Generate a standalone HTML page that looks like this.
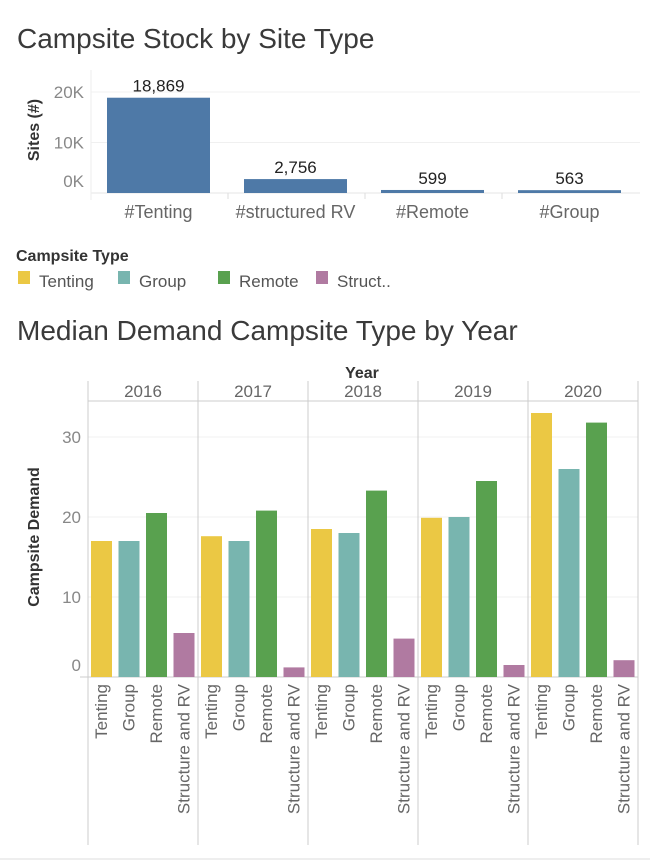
<!DOCTYPE html>
<html><head><meta charset="utf-8"><style>
body{margin:0;background:#fff;width:650px;height:861px;overflow:hidden;font-family:"Liberation Sans",sans-serif}
svg{display:block}
</style></head><body>
<svg id="s" width="650" height="861" xmlns="http://www.w3.org/2000/svg">
<text x="17" y="48" font-size="28" fill="#3a3a3a">Campsite Stock by Site Type</text>
<text x="17" y="340" font-size="28" fill="#3a3a3a">Median Demand Campsite Type by Year</text>
<g id="topchart"></g>
<g id="legend">
<text x="16" y="261" font-size="16" font-weight="bold" fill="#333">Campsite Type</text>
</g>
<g id="botchart"></g>
<line x1="0" y1="859" x2="650" y2="859" stroke="#eee" stroke-width="2"/>
</svg>
<script>
const stockCats=["#Tenting","#structured RV","#Remote","#Group"];
const stockVals=[18869,2756,599,563];
const stockTicks=[0,10000,20000];
const stockTickLabels=["0K","10K","20K"];
const years=["2016","2017","2018","2019","2020"];
const types=["Tenting","Group","Remote","Structure and RV"];
const tenting=[17,17.6,18.5,19.9,33];
const group=[17,17,18,20,26];
const remote=[20.5,20.8,23.3,24.5,31.8];
const structRV=[5.5,1.2,4.8,1.5,2.1];
const demandTicks=[0,10,20,30];
const legendLabels=["Tenting","Group","Remote","Struct.."];
const colors=["#EBC844","#78B5AF","#59A14F","#B07AA1"];
const NS="http://www.w3.org/2000/svg";
function mk(p,t,a,txt){const e=document.createElementNS(NS,t);for(const k in a)e.setAttribute(k,a[k]);if(txt!==undefined)e.textContent=txt;p.appendChild(e);return e;}
const topG=document.getElementById('topchart');
const ty=v=>193-v*(101/20000);
const tx0=91,tslot=137;
stockTicks.forEach((t,i)=>{
 const gl=mk(topG,'line',{x1:tx0,x2:640,y1:ty(t),y2:ty(t),stroke:i==0?'#e6e6e6':'#f0f0f0'});
 
 
 const l=mk(topG,'text',{x:84,y:ty(t)+6-(t==0?12:0),'text-anchor':'end','font-size':17,fill:'#888'},stockTickLabels[i]);
 
 
});
mk(topG,'line',{x1:tx0,x2:tx0,y1:70,y2:200,stroke:'#eee'});
const yt=mk(topG,'text',{transform:'translate(39,130) rotate(-90)','text-anchor':'middle','font-size':16,'font-weight':'bold',fill:'#333'},'Sites (#)');


stockCats.forEach((c,i)=>{
 const x=tx0+16+i*tslot,v=stockVals[i];
 const b=mk(topG,'rect',{x:x,y:ty(v),width:103,height:193-ty(v),fill:'#4E79A7'});
 
 
 const vl=mk(topG,'text',{x:x+51.5,y:ty(v)-6,'text-anchor':'middle','font-size':17,fill:'#222'},v.toLocaleString('en-US'));
 
 
 const cl=mk(topG,'text',{x:x+51.5,y:218,'text-anchor':'middle','font-size':18,fill:'#666'},c);
 
 
 if(i>0){mk(topG,'line',{x1:tx0+i*tslot,x2:tx0+i*tslot,y1:193,y2:199,stroke:'#ddd'});}
});
const lg=document.getElementById('legend');
const lx=[18,118,218,316];
legendLabels.forEach((t,i)=>{
 const g=mk(lg,'g',{});
 
 
 mk(g,'rect',{x:lx[i],y:271,width:12,height:13,fill:colors[i]});
 mk(g,'text',{x:lx[i]+21,y:287,'font-size':17,fill:'#555'},t);
});
const botG=document.getElementById('botchart');
const by=v=>677-v*8;
const px0=88,pw=110;
demandTicks.forEach(t=>{
 const gl=mk(botG,'line',{x1:px0,x2:638,y1:by(t),y2:by(t),stroke:'#f0f0f0'});
 
 
 const l=mk(botG,'text',{x:81,y:by(t)+6-(t==0?12:0),'text-anchor':'end','font-size':17,fill:'#888'},String(t));
 
 
});
const yt2=mk(botG,'text',{transform:'translate(39,537) rotate(-90)','text-anchor':'middle','font-size':16,'font-weight':'bold',fill:'#333'},'Campsite Demand');


const yh=mk(botG,'text',{x:362,y:378,'text-anchor':'middle','font-size':16,'font-weight':'bold',fill:'#333'},'Year');


mk(botG,'line',{x1:px0,x2:638,y1:401,y2:401,stroke:'#ccc'});
mk(botG,'line',{x1:80,x2:638,y1:677,y2:677,stroke:'#ccc'});
const series=[tenting,group,remote,structRV];
years.forEach((y,i)=>{
 const x0=px0+i*pw;
 const yl=mk(botG,'text',{x:x0+pw/2,y:397,'text-anchor':'middle','font-size':17,fill:'#666'},y);
 
 
 series.forEach((s,j)=>{
  const bx=x0+3+j*27.5,v=s[i];
  const b=mk(botG,'rect',{x:bx,y:by(v),width:21,height:by(0)-by(v),fill:colors[j]});
  
  
  const tl=mk(botG,'text',{transform:`translate(${bx+16},684) rotate(-90)`,'text-anchor':'end','font-size':17,fill:'#666'},types[j]);
  
  
 });
});
for(let i=0;i<=5;i++){mk(botG,'line',{x1:px0+i*pw,x2:px0+i*pw,y1:381,y2:845,stroke:'#ccc'});}
</script>
</body></html>
